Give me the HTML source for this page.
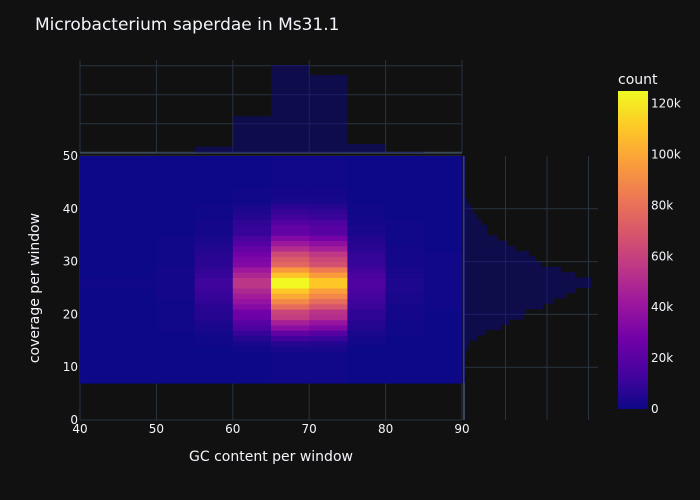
<!DOCTYPE html>
<html><head><meta charset="utf-8"><style>
html,body{margin:0;padding:0;background:#111111;}
svg{display:block;font-family:"DejaVu Sans","Liberation Sans",sans-serif;}
</style></head><body>
<svg id="chart" width="700" height="500">
<rect width="700" height="500" fill="#111111"/>
<text x="35" y="30" fill="#f2f5fa" font-size="17">Microbacterium saperdae in Ms31.1</text>
<text x="271" y="461" fill="#f2f5fa" font-size="14" text-anchor="middle">GC content per window</text>
<text transform="translate(39,288) rotate(-90)" fill="#f2f5fa" font-size="14" text-anchor="middle">coverage per window</text>
<text x="618" y="84" fill="#f2f5fa" font-size="14">count</text>
<g id="grid"></g><g id="marks"></g><g id="labels"></g>
<defs><linearGradient id="plasma" x1="0" y1="1" x2="0" y2="0">
<stop offset="0" stop-color="#0d0887"/><stop offset="0.111" stop-color="#46039f"/><stop offset="0.222" stop-color="#7201a8"/><stop offset="0.333" stop-color="#9c179e"/><stop offset="0.444" stop-color="#bd3786"/><stop offset="0.556" stop-color="#d8576b"/><stop offset="0.667" stop-color="#ed7953"/><stop offset="0.778" stop-color="#fb9f3a"/><stop offset="0.889" stop-color="#fdca26"/><stop offset="1" stop-color="#f0f921"/></linearGradient></defs>
</svg>
<script>
// GC bins (left edges) and coverage bins (lower edges)
const gcBins = [40,45,50,55,60,65,70,75,80,85];
const covBins = [7,8,9,10,11,12,13,14,15,16,17,18,19,20,21,22,23,24,25,26,27,28,29,30,31,32,33,34,35,36,37,38,39,40,41,42,43,44,45,46,47,48,49];
// top marginal histogram counts (relative units)
const gcCounts = [0,0,1,21,126,302,268,30,3,0];
// right marginal histogram counts (relative units)
const covCounts = [1,1,1,1,1,1,3,6,13,22,37,46,59,62,79,90,102,112,127,127,111,97,77,72,65,52,43,34,23,23,18,13,10,7,3,2,2,1,1,1,1,1,1];
// heatmap counts in thousands, one row per coverage bin, columns = gcBins
const zRows = [
[0,0,0,0,0,1,1,0,0,0],[0,0,0,0,0,1,1,0,0,0],[0,0,0,0,0,1,1,0,0,0],[0,0,0,0,0,1,1,0,0,0],
[0,0,0,0,0,1,1,0,0,0],[0,0,0,0,0,1,1,0,0,0],[0,0,0,0,1,3,3,0,0,0],[0,0,0,1,3,6,5,1,0,0],
[0,0,0,1,6,13,11,2,0,0],[0,0,0,2,10,22,19,3,1,0],[0,0,1,3,16,36,32,5,1,0],[0,0,1,4,20,45,40,6,1,0],
[0,0,1,6,26,58,51,8,2,0],[0,0,1,6,27,61,54,8,2,0],[0,0,1,7,34,78,68,11,2,1],[0,0,1,9,39,89,78,12,3,1],
[0,0,2,10,44,100,88,14,3,1],[0,0,2,11,49,110,97,15,4,1],[1,1,2,12,55,125,110,17,4,1],[1,1,2,12,55,125,110,17,4,1],
[0,0,2,10,48,109,96,15,3,1],[0,0,2,9,42,95,84,13,3,1],[0,0,1,7,33,76,67,10,2,1],[0,0,1,7,31,71,62,10,2,1],
[0,0,1,6,28,64,56,9,2,1],[0,0,1,5,23,51,45,7,2,0],[0,0,1,4,19,42,37,6,1,0],[0,0,1,3,15,33,29,5,1,0],
[0,0,0,2,10,23,20,3,1,0],[0,0,0,2,10,23,20,3,1,0],[0,0,0,2,8,18,16,2,1,0],[0,0,0,1,6,13,11,2,0,0],
[0,0,0,1,4,10,9,1,0,0],[0,0,0,1,3,7,6,1,0,0],[0,0,0,0,1,3,3,0,0,0],[0,0,0,0,1,2,2,0,0,0],
[0,0,0,0,1,2,2,0,0,0],[0,0,0,0,0,1,1,0,0,0],[0,0,0,0,0,1,1,0,0,0],[0,0,0,0,0,1,1,0,0,0],
[0,0,0,0,0,1,1,0,0,0],[0,0,0,0,0,1,1,0,0,0],[0,0,0,0,0,1,1,0,0,0]];
const xTicks = [40,50,60,70,80,90];
const yTicks = [0,10,20,30,40,50];
const topGridVals = [100,200,300];
const rightGridVals = [41.5,83,124.5];
const cbTicks = [0,20,40,60,80,100,120];
const cbTickLabels = ["0","20k","40k","60k","80k","100k","120k"];

const NS='http://www.w3.org/2000/svg';
const X = v => 80 + (v-40)*(382/50);
const Y = v => 420 - v*(264/50);
const TY = v => 152.7 - v*(29/100);
const RX = v => 464 + v;
const zMax = 125;
const CB = v => 409 - v*(318/zMax);
const stops=[[13,8,135],[70,3,159],[114,1,168],[156,23,158],[189,55,134],[216,87,107],[237,121,83],[251,159,58],[253,202,38],[240,249,33]];
function plasma(t){t=Math.max(0,Math.min(1,t));const p=t*9,i=Math.min(8,Math.floor(p)),f=p-i;const a=stops[i],b=stops[i+1];
return 'rgb('+a.map((c,k)=>Math.round(c+(b[k]-c)*f)).join(',')+')';}
function mk(tag,attrs,parent){const e=document.createElementNS(NS,tag);for(const k in attrs)e.setAttribute(k,attrs[k]);document.getElementById(parent).appendChild(e);return e;}
const GC='#283442';
xTicks.forEach(t=>{const l=mk('line',{x1:X(t),x2:X(t),y1:156,y2:420,stroke:GC},'grid');


const tl=mk('line',{x1:X(t),x2:X(t),y1:60,y2:153,stroke:GC},'grid');


const tx=mk('text',{x:X(t),y:433,fill:'#f2f5fa','font-size':12,'text-anchor':'middle'},'labels');tx.textContent=t;

});
yTicks.forEach(t=>{const l=mk('line',{x1:80,x2:462,y1:Y(t),y2:Y(t),stroke:GC},'grid');


if(t>0&&t<50){const r=mk('line',{x1:464,x2:598,y1:Y(t),y2:Y(t),stroke:GC},'grid');

}
const tx=mk('text',{x:78,y:Y(t)+4,fill:'#f2f5fa','font-size':12,'text-anchor':'end'},'labels');tx.textContent=t;

});
topGridVals.forEach(v=>{const l=mk('line',{x1:80,x2:462,y1:TY(v),y2:TY(v),stroke:GC},'grid');

});
rightGridVals.forEach(v=>{const r=mk('line',{x1:RX(v),x2:RX(v),y1:156,y2:420,stroke:GC},'grid');

});
const bl=mk('line',{x1:80,x2:462,y1:152.7,y2:152.7,stroke:'#3a4656','stroke-width':2},'grid');


const rb=mk('line',{x1:464,x2:464,y1:156,y2:420,stroke:'#3a4656','stroke-width':2},'grid');


zRows.forEach((row,ri)=>{const c=covBins[ri];row.forEach((z,ci)=>{const g=gcBins[ci];
const r=mk('rect',{x:X(g),y:Y(c+1),width:X(g+5)-X(g)+0.5,height:Y(c)-Y(c+1)+0.5,fill:plasma(z/zMax)},'marks');

});});
gcCounts.forEach((v,i)=>{if(v<=0)return;const g=gcBins[i];
const r=mk('rect',{x:X(g),y:TY(v),width:X(g+5)-X(g),height:152.7-TY(v),fill:'#0d0887','fill-opacity':0.5},'marks');

});
covCounts.forEach((v,i)=>{const c=covBins[i];
const r=mk('rect',{x:464,y:Y(c+1),width:RX(v)-464,height:Y(c)-Y(c+1),fill:'#0d0887','fill-opacity':0.5},'marks');

});
const cb=mk('rect',{x:618,y:CB(zMax),width:30,height:409-CB(zMax),fill:'url(#plasma)'},'marks');


cbTicks.forEach((t,i)=>{const tx=mk('text',{x:651,y:CB(t)+4,fill:'#f2f5fa','font-size':12},'labels');tx.textContent=cbTickLabels[i];

});
</script>
</body></html>
